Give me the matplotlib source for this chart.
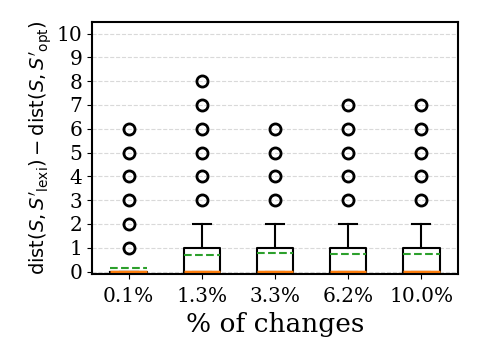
import matplotlib
matplotlib.use("Agg")
import matplotlib.pyplot as plt

# values
labels = ['0.1%', '1.3%', '3.3%', '6.2%', '10.0%']
q1 = [0, 0, 0, 0, 0]
q3 = [0, 1, 1, 1, 1]
medians = [0, 0, 0, 0, 0]
means = [0.13, 0.70, 0.76, 0.74, 0.72]
whislo = [0, 0, 0, 0, 0]
whishi = [0, 2, 2, 2, 2]
fliers = [
    [1, 2, 3, 4, 5, 6],
    [3, 4, 5, 6, 7, 8],
    [3, 4, 5, 6],
    [3, 4, 5, 6, 7],
    [3, 4, 5, 6, 7],
]

plt.rcParams['font.family'] = 'DejaVu Serif'
plt.rcParams['mathtext.fontset'] = 'dejavusans'

stats = []
for i in range(len(labels)):
    stats.append({'label': labels[i], 'q1': q1[i], 'q3': q3[i], 'med': medians[i],
                  'mean': means[i], 'whislo': whislo[i], 'whishi': whishi[i],
                  'fliers': fliers[i]})

fig = plt.figure(figsize=(4.8, 3.6), dpi=100)
ax = fig.add_axes([0.192, 0.239, 0.762, 0.701])

ax.bxp(stats, showmeans=True, meanline=True, widths=0.5,
       boxprops=dict(color='black', linewidth=1.5),
       whiskerprops=dict(color='black', linewidth=1.5),
       capprops=dict(color='black', linewidth=1.5),
       medianprops=dict(color='#ff7f0e', linewidth=2.5),
       meanprops=dict(color='#2ca02c', linestyle='--', linewidth=1.5),
       flierprops=dict(marker='o', markerfacecolor='none', markeredgecolor='black',
                       markersize=8, markeredgewidth=2))

ax.set_ylim(-0.1, 10.5)
ax.set_yticks(range(0, 11))
ax.yaxis.grid(True, linestyle='--', color='#d9d9d9', linewidth=0.8)
ax.set_axisbelow(True)
ax.tick_params(labelsize=14.5)
ax.tick_params(axis='x', pad=6)
for s in ax.spines.values():
    s.set_linewidth(1.5)

ax.set_xlabel('% of changes', fontsize=19, labelpad=4)
ax.set_ylabel(r"$\mathrm{dist}(S,S'_{\mathrm{lexi}})-\mathrm{dist}(S,S'_{\mathrm{opt}})$",
              fontsize=14, labelpad=2)

fig.savefig('out.png', dpi=100)
